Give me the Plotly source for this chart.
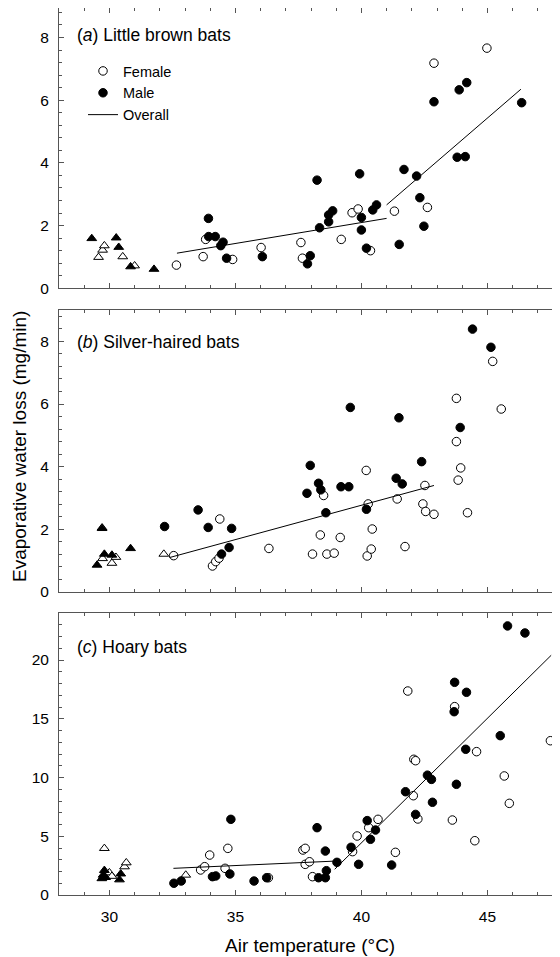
import plotly.graph_objects as go
from plotly.subplots import make_subplots

# ---------------- data ----------------
# Panel (a) Little brown bats
a_female_t = [32.66, 33.72, 33.82, 34.89, 36.02, 37.6, 37.66, 39.2, 39.63, 39.87, 40.36, 41.31, 42.62, 42.88, 44.98]
a_female_v = [0.74, 1.01, 1.56, 0.92, 1.30, 1.46, 0.96, 1.56, 2.41, 2.53, 1.2, 2.46, 2.58, 7.18, 7.66]
a_male_t = [33.93, 33.94, 34.2, 34.51, 34.42, 34.65, 36.07, 37.97, 37.86, 38.24, 38.34, 38.7, 38.7, 38.86, 39.93,
            40.0, 40.0, 40.2, 40.45, 40.6, 41.5, 41.69, 42.19, 42.32, 42.48, 42.88, 43.8, 43.88, 44.12, 44.18, 46.36]
a_male_v = [2.23, 1.65, 1.65, 1.47, 1.36, 0.96, 1.01, 1.04, 0.78, 3.45, 1.93, 2.12, 2.34, 2.47, 3.65,
            2.26, 1.86, 1.28, 2.50, 2.66, 1.40, 3.79, 3.58, 2.89, 1.98, 5.95, 4.18, 6.33, 4.2, 6.56, 5.92]
a_tri_female_t = [29.57, 29.73, 29.8, 30.53, 31.0]
a_tri_female_v = [0.99, 1.22, 1.36, 1.01, 0.72]
a_tri_male_t = [29.3, 30.27, 30.37, 30.84, 31.77]
a_tri_male_v = [1.59, 1.61, 1.31, 0.69, 0.61]
a_fit1_t = [32.68, 41.0]
a_fit1_v = [1.12, 2.23]
a_fit2_t = [41.0, 46.33]
a_fit2_v = [2.66, 6.35]

# Panel (b) Silver-haired bats
b_female_t = [32.55, 34.09, 34.22, 34.35, 34.38, 36.33, 38.06, 38.37, 38.5, 38.63, 38.92, 39.16, 40.19, 40.23, 40.27,
              40.39, 40.43, 41.42, 41.73, 42.44, 42.52, 42.55, 42.88, 43.77, 43.77, 43.84, 43.94, 44.21, 45.21, 45.55]
b_female_v = [1.16, 0.83, 0.97, 1.08, 2.33, 1.39, 1.21, 1.82, 3.08, 1.21, 1.24, 1.74, 3.88, 1.15, 2.81,
              1.37, 2.01, 2.97, 1.45, 2.81, 3.40, 2.57, 2.48, 6.18, 4.8, 3.57, 3.96, 2.53, 7.36, 5.84]
b_male_t = [32.19, 33.52, 33.92, 34.45, 34.75, 34.85, 37.84, 37.97, 38.3, 38.39, 38.59, 39.19, 39.5, 39.56, 40.2,
            41.38, 41.49, 41.62, 42.39, 43.92, 44.41, 45.14]
b_male_v = [2.09, 2.62, 2.06, 1.21, 1.42, 2.03, 3.15, 4.04, 3.47, 3.26, 2.53, 3.36, 3.36, 5.89, 2.64,
            3.63, 5.56, 3.45, 4.16, 5.25, 8.39, 7.81]
b_tri_female_t = [29.71, 29.73, 30.1, 30.26, 32.16]
b_tri_female_v = [2.05, 1.07, 0.92, 1.11, 1.21]
b_tri_male_t = [29.51, 29.71, 29.8, 30.1, 30.84]
b_tri_male_v = [0.86, 2.03, 1.21, 1.18, 1.39]
b_fit_t = [32.39, 42.88]
b_fit_v = [1.10, 3.40]

# Panel (c) Hoary bats
c_female_t = [33.62, 33.78, 33.98, 34.59, 34.7, 36.31, 37.68, 37.77, 37.77, 37.94, 38.06, 39.65, 39.83, 40.29, 40.66,
              41.35, 41.84, 42.08, 42.15, 42.06, 42.24, 43.61, 43.7, 44.5, 44.57, 45.67, 45.87, 47.5]
c_female_v = [2.13, 2.41, 3.4, 2.27, 3.97, 1.47, 3.83, 3.97, 2.61, 2.83, 1.56, 3.69, 5.02, 5.73, 6.44,
              3.63, 17.36, 11.55, 11.43, 8.45, 6.47, 6.38, 16.03, 4.62, 12.2, 10.13, 7.8, 13.13]
c_male_t = [32.56, 32.85, 34.09, 34.22, 34.78, 34.82, 35.74, 36.24, 38.24, 38.3, 38.57, 38.57, 38.61, 39.03, 39.59,
            39.89, 40.23, 40.36, 40.56, 41.2, 41.75, 42.15, 42.62, 42.78, 42.82, 43.68, 43.7, 43.77, 44.14, 44.17,
            45.51, 45.8, 46.49]
c_male_v = [1.0, 1.19, 1.56, 1.62, 1.79, 6.44, 1.19, 1.47, 5.73, 1.47, 1.47, 3.74, 2.07, 2.78, 4.06,
            2.61, 6.33, 4.74, 5.53, 2.55, 8.79, 6.86, 10.2, 9.84, 7.89, 15.6, 18.1, 9.42, 12.4, 17.25,
            13.56, 22.9, 22.3]
c_tri_female_t = [29.8, 30.0, 30.1, 30.6, 30.67, 33.03]
c_tri_female_v = [3.97, 1.9, 1.6, 2.41, 2.75, 1.7]
c_tri_male_t = [29.7, 29.75, 29.8, 29.85, 30.4, 30.45]
c_tri_male_v = [1.4, 1.7, 2.1, 1.5, 1.3, 1.8]
c_fit1_t = [32.54, 39.0]
c_fit1_v = [2.27, 2.89]
c_fit2_t = [38.94, 47.53]
c_fit2_v = [2.19, 20.4]

panel_titles = ["(<i>a</i>) Little brown bats", "(<i>b</i>) Silver-haired bats", "(<i>c</i>) Hoary bats"]
x_title = "Air temperature (°C)"
y_title = "Evaporative water loss (mg/min)"

# ---------------- figure ----------------
FONT = "Liberation Sans, Arial, sans-serif"
OFF = 8                      # page body margin in the browser
W, H = 560 - OFF, 957 - OFF
ML, MR, MT, MB = 59 - OFF, 0, 0, 62
ph = H - MT - MB
pw = W - ML - MR

def px2p(y_screen):
    return (H - MB - (y_screen - OFF)) / ph

fig = make_subplots(rows=3, cols=1, vertical_spacing=0.0)
doms = [[px2p(288.3), 1.0], [px2p(592), px2p(310)], [0.0, px2p(613)]]
title_y = [0.904, 0.888, 0.880]

MS = 8.5
TS = 8.5

def circ_filled(t, v, row, name=None, show=False):
    fig.add_trace(go.Scatter(
        x=t, y=v, mode="markers", name=name, showlegend=show,
        marker=dict(symbol="circle", size=MS, color="black", line=dict(color="black", width=1)),
    ), row=row, col=1)

def circ_open(t, v, row, name=None, show=False):
    fig.add_trace(go.Scatter(
        x=t, y=v, mode="markers", name=name, showlegend=show,
        marker=dict(symbol="circle", size=MS, color="white", line=dict(color="black", width=1)),
    ), row=row, col=1)

def tri(t, v, filled, row):
    fig.add_trace(go.Scatter(
        x=t, y=v, mode="markers", showlegend=False,
        marker=dict(symbol="triangle-up", size=TS,
                    color="black" if filled else "white", line=dict(color="black", width=1)),
    ), row=row, col=1)

def fit(t, v, row, name=None, show=False):
    fig.add_trace(go.Scatter(
        x=t, y=v, mode="lines", name=name, showlegend=show,
        line=dict(color="black", width=1),
    ), row=row, col=1)

# panel a
tri(a_tri_female_t, a_tri_female_v, False, 1)
tri(a_tri_male_t, a_tri_male_v, True, 1)
circ_open(a_female_t, a_female_v, 1, "Female", True)
circ_filled(a_male_t, a_male_v, 1, "Male", True)
fit(a_fit1_t, a_fit1_v, 1, "Overall", True)
fit(a_fit2_t, a_fit2_v, 1)
# panel b
tri(b_tri_female_t, b_tri_female_v, False, 2)
tri(b_tri_male_t, b_tri_male_v, True, 2)
circ_open(b_female_t, b_female_v, 2)
circ_filled(b_male_t, b_male_v, 2)
fit(b_fit_t, b_fit_v, 2)
# panel c
tri(c_tri_female_t, c_tri_female_v, False, 3)
tri(c_tri_male_t, c_tri_male_v, True, 3)
circ_open(c_female_t, c_female_v, 3)
circ_filled(c_male_t, c_male_v, 3)
fit(c_fit1_t, c_fit1_v, 3)
fit(c_fit2_t, c_fit2_v, 3)

AX = "#555555"
common = dict(showline=True, linecolor=AX, linewidth=1, mirror="ticks", ticks="inside",
              tickcolor=AX, ticklen=5, tickwidth=1, showgrid=False, zeroline=False,
              tickfont=dict(family=FONT, size=15.5, color="black"))
x_max = 28 + pw / 25.2
y_ranges = [[0, 8.94], [0, 9], [0, 24]]
for i in range(3):
    xa = "xaxis" if i == 0 else f"xaxis{i+1}"
    ya = "yaxis" if i == 0 else f"yaxis{i+1}"
    fig.layout[xa].update(range=[28, x_max], dtick=5, tick0=30, showticklabels=(i == 2),
                          ticklabelstandoff=7,
                          minor=dict(dtick=1, ticks="inside", ticklen=3, tickcolor=AX), **common)
    if i < 2:
        fig.layout[ya].update(range=y_ranges[i], dtick=2, tick0=0, ticklabelstandoff=6,
                              minor=dict(dtick=0.4, ticks="inside", ticklen=3, tickcolor=AX),
                              domain=doms[i], **common)
    else:
        fig.layout[ya].update(range=y_ranges[i], dtick=5, tick0=0, ticklabelstandoff=6,
                              minor=dict(dtick=1, ticks="inside", ticklen=3, tickcolor=AX),
                              domain=doms[i], **common)
    sfx = "" if i == 0 else str(i + 1)
    fig.add_annotation(text=panel_titles[i], xref=f"x{sfx} domain", yref=f"y{sfx} domain",
                       x=0.032, y=title_y[i], xanchor="left", yanchor="middle", showarrow=False,
                       font=dict(family=FONT, size=17.5, color="black"))

# axis titles
fig.add_annotation(text=x_title, xref="paper", yref="paper", x=0.5, y=px2p(945),
                   showarrow=False, xanchor="center", yanchor="middle",
                   font=dict(family=FONT, size=19, color="black"))
fig.add_annotation(text=y_title, xref="paper", yref="paper", x=(19 - 59) / pw, y=px2p(447),
                   textangle=-90, showarrow=False, xanchor="center", yanchor="middle",
                   font=dict(family=FONT, size=19, color="black"))

fig.update_layout(
    width=W, height=H, margin=dict(l=ML, r=MR, t=MT, b=MB),
    paper_bgcolor="white", plot_bgcolor="white",
    legend=dict(x=(83 - 59) / pw, y=px2p(55), xanchor="left", yanchor="top", bgcolor="rgba(0,0,0,0)",
                font=dict(family=FONT, size=14.5, color="black"), tracegroupgap=0),
    showlegend=True,
)

fig.write_html("out.html")
